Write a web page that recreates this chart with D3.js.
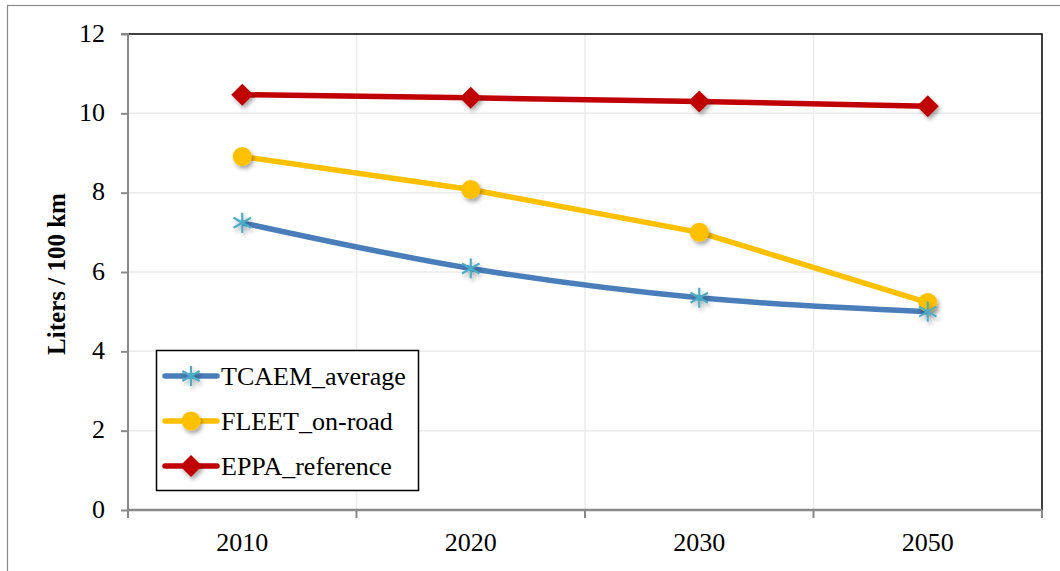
<!DOCTYPE html>
<html><head><meta charset="utf-8">
<script src="https://cdn.jsdelivr.net/npm/d3@7"></script>
<style>body{margin:0;background:#fff}svg{display:block}
svg text{font-family:"Liberation Serif","Times New Roman",serif !important;}</style>
</head><body><svg id="c" width="1060" height="571"></svg>
<script>
const categories = ["2010","2020","2030","2050"];
const tcaem = [7.24, 6.09, 5.35, 5.00];
const fleet = [8.91, 8.08, 7.00, 5.23];
const eppa = [10.47, 10.39, 10.30, 10.18];
const yTicks = [0,2,4,6,8,10,12];
const seriesNames = ["TCAEM_average","FLEET_on-road","EPPA_reference"];

const svg = d3.select("#c");
const L=128, R=1042, T=34, B=510;
const x = d3.scaleBand().domain(categories).range([L,R]);
const y = d3.scaleLinear().domain([0,12]).range([B,T]);

const defs = svg.append("defs");
const f = defs.append("filter").attr("id","sh").attr("x","-50%").attr("y","-50%").attr("width","200%").attr("height","200%");
f.append("feDropShadow").attr("dx",2).attr("dy",3).attr("stdDeviation",2).attr("flood-color","#000").attr("flood-opacity",0.35);

svg.append("rect").attr("x",7.5).attr("y",5.5).attr("width",1060).attr("height",600).attr("fill","none").attr("stroke","#8a8a8a").attr("stroke-width",1.2);

// grid
svg.append("g").selectAll("line").data(yTicks.filter(d=>d>0&&d<12)).join("line")
 .attr("x1",L).attr("x2",R).attr("y1",d=>y(d)).attr("y2",d=>y(d)).attr("stroke","#ebebeb").attr("stroke-width",1.5);
const bounds = categories.map(c=>x(c)).slice(1);
svg.append("g").selectAll("line").data(bounds).join("line")
 .attr("x1",d=>d).attr("x2",d=>d).attr("y1",T).attr("y2",B).attr("stroke","#ebebeb").attr("stroke-width",1.5);

// top and right frame
svg.append("path").attr("d",`M${L},${T}H${R}V${B}`).attr("fill","none").attr("stroke","#000").attr("stroke-width",1.5);

// y axis
const ya = svg.append("g").attr("transform",`translate(${L},0)`).call(d3.axisLeft(y).tickValues(yTicks).tickSize(7).tickPadding(16));
ya.selectAll("text").attr("font-size",26).attr("fill","#000").attr("dy","0.27em");
ya.selectAll("line,path").attr("stroke","#898989").attr("stroke-width",2);
ya.select(".domain").attr("d",`M-7,${T}H0V${B}`);

// x axis
const xa = svg.append("g").attr("transform",`translate(0,${B})`).call(d3.axisBottom(x).tickSize(0).tickPadding(0));
xa.selectAll(".tick text").attr("font-size",26).attr("fill","#000").attr("dy",0).attr("y",41);
xa.select(".domain").attr("stroke","#898989").attr("stroke-width",2.5).attr("d",`M${L},0H${R}`);
xa.append("g").selectAll("line").data([L,...bounds,R]).join("line")
 .attr("x1",d=>d).attr("x2",d=>d).attr("y1",0).attr("y2",8).attr("stroke","#898989").attr("stroke-width",2);

svg.append("text").attr("transform",`translate(65,${(T+B)/2+2}) rotate(-90)`).attr("text-anchor","middle")
 .attr("font-size",25).attr("font-weight","bold").text("Liters / 100 km");

const cx = c=>x(c)+x.bandwidth()/2;
function star(g,px,py,col){
  const s=10;
  const gg=g.append("g").attr("filter","url(#sh)");
  [[0,-s,0,s],[-s*0.87,-s*0.5,s*0.87,s*0.5],[-s*0.87,s*0.5,s*0.87,-s*0.5]].forEach(a=>
   gg.append("line").attr("x1",px+a[0]).attr("y1",py+a[1]).attr("x2",px+a[2]).attr("y2",py+a[3]).attr("stroke",col).attr("stroke-width",2.2));
}
function circ(g,px,py,col){g.append("circle").attr("cx",px).attr("cy",py).attr("r",9.5).attr("fill",col).attr("filter","url(#sh)");}
function diam(g,px,py,col){const s=11;g.append("path").attr("d",`M${px},${py-s}L${px+s},${py}L${px},${py+s}L${px-s},${py}Z`).attr("fill",col).attr("filter","url(#sh)");}

const series = [
 {vals:tcaem, line:"#4a7ebb", mk:"#4bacc6", m:star, curve:d3.curveCatmullRom.alpha(0.5)},
 {vals:fleet, line:"#ffc000", mk:"#ffc000", m:circ, curve:d3.curveLinear},
 {vals:eppa, line:"#c00000", mk:"#c00000", m:diam, curve:d3.curveLinear}
];
const lg = svg.append("g");
series.slice().reverse().forEach(s=>{
  const line = d3.line().x((d,i)=>cx(categories[i])).y(d=>y(d)).curve(s.curve);
  lg.append("path").attr("d",line(s.vals)).attr("fill","none").attr("stroke",s.line).attr("stroke-width",5.5).attr("stroke-linejoin","round");
});
series.slice().reverse().forEach(s=>{
  s.vals.forEach((v,i)=>s.m(lg,cx(categories[i]),y(v),s.mk));
});

// legend
const leg = svg.append("g");
leg.append("rect").attr("x",156.5).attr("y",350.5).attr("width",262).attr("height",140).attr("fill","#fff").attr("stroke","#000").attr("stroke-width",1.5);
series.forEach((s,i)=>{
  const ly = 376 + i*45;
  leg.append("line").attr("x1",165).attr("x2",217).attr("y1",ly).attr("y2",ly).attr("stroke",s.line).attr("stroke-width",5.5).attr("stroke-linecap","round");
  s.m(leg,191,ly,s.mk);
  leg.append("text").attr("x",221).attr("y",ly+9).attr("font-size",26).text(seriesNames[i]);
});
</script></body></html>
